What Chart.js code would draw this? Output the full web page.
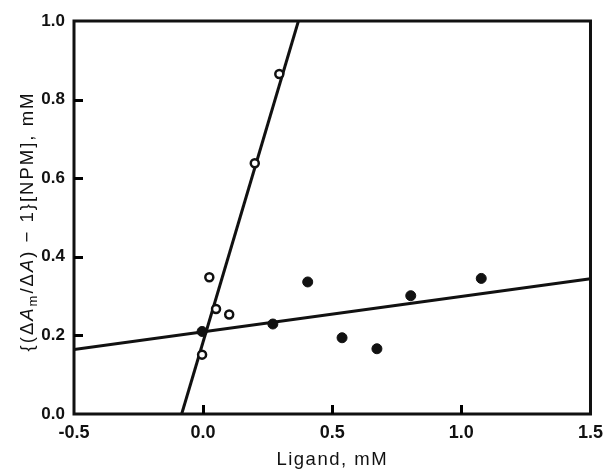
<!DOCTYPE html>
<html>
<head>
<meta charset="utf-8">
<script src="https://cdn.jsdelivr.net/npm/chart.js@4"></script>
<style>
  html, body { margin: 0; padding: 0; background: #fff; }
  #wrap { width: 611px; height: 470px; }
</style>
</head>
<body>
<div id="wrap"><canvas id="bindingCanvas"></canvas></div>
<script>
// open circles
let openX = [-0.004, 0.024, 0.050, 0.101, 0.200, 0.295];
let openY = [0.151, 0.348, 0.267, 0.253, 0.638, 0.865];
// filled circles
let filledX = [-0.004, 0.270, 0.405, 0.538, 0.673, 0.804, 1.077];
let filledY = [0.210, 0.229, 0.336, 0.194, 0.166, 0.301, 0.345];
// fitted lines (end points)
let steepX = [-0.083, 0.369];
let steepY = [0.0, 1.0];
let flatX = [-0.5, 1.5];
let flatY = [0.164, 0.344];

let xTicks = [-0.5, 0.0, 0.5, 1.0, 1.5];
let yTicks = [0.0, 0.2, 0.4, 0.6, 0.8, 1.0];

let xTitle = "Ligand, mM";
let ink = "#111";
let fam = '"Liberation Sans", Arial, sans-serif';

let toPoints = (xs, ys) => xs.map((v, i) => ({x: v, y: ys[i]}));

let frame = {
    id: "frame",
    afterDraw(chart) {
        let ctx = chart.ctx;
        let a = chart.chartArea;
        let sx = chart.scales.x;
        let sy = chart.scales.y;
        ctx.save();
        ctx.strokeStyle = ink;
        ctx.fillStyle = ink;
        ctx.lineWidth = 3;
        ctx.strokeRect(a.left, a.top, a.right - a.left, a.bottom - a.top);

        // inward tick marks
        ctx.fillStyle = "#000";
        [0.0, 0.5, 1.0].forEach(v => {
            let px = Math.round(sx.getPixelForValue(v));
            ctx.fillRect(px - 1, Math.round(a.bottom) - 9, 3, 9);
        });
        [0.2, 0.4, 0.6, 0.8].forEach(v => {
            let py = Math.round(sy.getPixelForValue(v));
            ctx.fillRect(Math.round(a.left), py - 1, 9, 3);
        });

        // x title
        ctx.fillStyle = ink;
        ctx.letterSpacing = "1.5px";
        ctx.font = "18.5px " + fam;
        ctx.textAlign = "center";
        ctx.textBaseline = "alphabetic";
        ctx.fillText(xTitle, (a.left + a.right) / 2, 465);

        // y title with italic A and subscript m
        let parts = [
            {t: "{(\u0394", f: "18.5px " + fam, dy: 0},
            {t: "A", f: "italic 18.5px " + fam, dy: 0},
            {t: "m", f: "13px " + fam, dy: 4},
            {t: "/\u0394", f: "18.5px " + fam, dy: 0},
            {t: "A", f: "italic 18.5px " + fam, dy: 0},
            {t: ") \u2212 1}[NPM], mM", f: "18.5px " + fam, dy: 0},
        ];
        ctx.letterSpacing = "2px";
        ctx.textAlign = "left";
        let total = 0;
        parts.forEach(p => { ctx.font = p.f; p.w = ctx.measureText(p.t).width; total += p.w; });
        ctx.translate(33, (a.top + a.bottom) / 2 + 4);
        ctx.rotate(-Math.PI / 2);
        let cx = -total / 2;
        parts.forEach(p => {
            ctx.font = p.f;
            ctx.fillText(p.t, cx, p.dy);
            cx += p.w;
        });
        ctx.restore();
    }
};

let bindingChart = new Chart(document.getElementById("bindingCanvas").getContext("2d"), {

    type: "scatter",

    data: {
        datasets: [
            {
                label: "open",
                data: toPoints(openX, openY),
                pointStyle: "circle",
                pointRadius: 4,
                pointBorderWidth: 2.5,
                pointBorderColor: ink,
                pointBackgroundColor: "#fff",
            },
            {
                label: "filled",
                data: toPoints(filledX, filledY),
                pointStyle: "circle",
                pointRadius: 5,
                pointBorderWidth: 1,
                pointBorderColor: ink,
                pointBackgroundColor: ink,
            },
            {
                type: "line",
                label: "fit steep",
                data: toPoints(steepX, steepY),
                borderColor: ink,
                borderWidth: 3,
                pointRadius: 0,
                fill: false,
            },
            {
                type: "line",
                label: "fit flat",
                data: toPoints(flatX, flatY),
                borderColor: ink,
                borderWidth: 3,
                pointRadius: 0,
                fill: false,
            },
        ]
    },

    options: {
        responsive: true,
        maintainAspectRatio: false,
        animation: false,
        layout: {
            padding: {top: 21, right: 16, left: 0, bottom: 0}
        },
        plugins: {
            legend: {display: false},
            tooltip: {enabled: false},
        },
        scales: {
            x: {
                type: "linear",
                min: -0.5,
                max: 1.5,
                afterFit: s => { s.height = 56; },
                afterBuildTicks: s => { s.ticks = xTicks.map(v => ({value: v})); },
                grid: {display: false, drawTicks: false},
                border: {display: false},
                ticks: {
                    color: ink,
                    padding: 8,
                    maxRotation: 0,
                    font: {family: fam, size: 18, weight: "bold"},
                    callback: v => v.toFixed(1),
                },
            },
            y: {
                type: "linear",
                min: 0,
                max: 1.0,
                afterFit: s => { s.width = 74; },
                afterBuildTicks: s => { s.ticks = yTicks.map(v => ({value: v})); },
                grid: {display: false, drawTicks: false},
                border: {display: false},
                ticks: {
                    color: ink,
                    padding: 9,
                    font: {family: fam, size: 17, weight: "bold"},
                    callback: v => v.toFixed(1),
                },
            },
        },
    },

    plugins: [frame],
})
</script>
</body>
</html>
